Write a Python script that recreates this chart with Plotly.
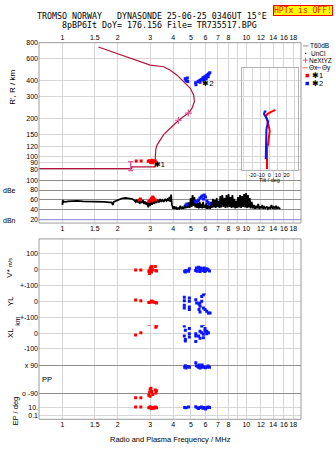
import numpy as np
import plotly.graph_objects as go

W, H = 335, 451


def px(x):
    return x / W


def py(y):
    return 1 - y / H


# ---------------- axis ticks ----------------
FREQ_TICKS = [1, 1.5, 2, 3, 4, 5, 6, 7, 8, 10, 12, 14, 16, 18]
FREQ_LABELS = ["1", "1.5", "2", "3", "4", "5", "6", "7", "8", "10", "12", "14", "16", "18"]
DB_FREQ_TICKS = [1, 1.5, 2, 3, 4, 5, 6, 7, 8, 9, 10, 12, 14, 16, 18]
DB_FREQ_LABELS = ["1", "1.5", "2", "3", "4", "5", "6", "7", "8", "9", "10", "12", "14", "16", "18"]
HEIGHT_TICKS = [80, 90, 100, 120, 150, 200, 300, 400, 600, 800]
DB_TICKS = [100, 80, 60, 40, 20]
TILT_TICKS = [-30, -20, -10, 0, 10, 20, 30]
TILT_LABELS = ["", "-20", "-10", "0", "10", "20", ""]

# ---------------- real-height profile ----------------
profile_freq = [0.70, 2.38, 2.38, 3.20, 3.20, 3.22, 3.27, 3.41, 3.55, 3.78, 4.03, 4.29,
                4.56, 4.86, 5.07, 5.22, 5.17, 4.96, 4.56, 4.20, 3.86, 3.55, 3.00, 2.44,
                1.98, 1.57]
profile_height = [81.0, 81.0, 83.5, 83.5, 100, 115, 124, 137, 150, 164, 180, 195,
                  209, 222, 243, 275, 309, 349, 394, 443, 485, 516, 531, 589,
                  656, 740]
nextyz_freq = [4.27, 4.84]
nextyz_height = [195, 222]
start_freq = [2.35]
start_height = [85]
start_err = [7]

# ---------------- echoes: O (*1) and X (*2) ----------------
o_freq = [2.52, 2.68, 2.93, 2.97, 3.00, 3.04, 3.08, 3.12, 3.16, 3.20, 3.02, 3.10]
o_height = [93, 93, 92.5, 93.5, 92, 93, 94, 93, 92, 93, 90.5, 90]
x_freq = [4.65, 4.70, 4.78, 4.80, 5.30, 5.32, 5.47, 5.55, 5.65, 5.72, 5.80, 5.88,
          5.95, 6.02, 6.10, 6.18, 6.25, 6.33, 5.60, 5.85, 6.05, 6.20]
x_height = [415, 400, 420, 395, 385, 372, 395, 400, 405, 410, 420, 425,
            430, 435, 440, 448, 455, 462, 390, 405, 415, 430]

# ---------------- tilt inset ----------------
tilt_o_deg = [-2.8, -2.8, -1.6, -0.4, 0.35, -0.4, -1.6, -3.2, -4.3, -2.4, 1.5, 7.0]
tilt_o_height = [80, 118, 126, 142, 160, 170, 186, 201, 209, 218, 226, 235]
tilt_x_deg = [-4.3, -4.3, -3.5, -3.5, -2.4, -1.6, -3.5, -6.3, -5.5, -3.5]
tilt_x_height = [96, 118, 142, 165, 180, 191, 203, 218, 229, 229]

# ---------------- echo amplitude / noise (dB) ----------------
noise_freq = [1.00, 1.005, 1.01, 1.02, 1.04, 1.07, 1.12, 1.20, 1.30, 1.40, 1.50, 1.60,
              1.70, 1.80, 1.85, 1.87, 1.88, 1.90, 1.93, 2.00, 2.10, 2.20, 2.30, 2.40,
              2.45, 2.50, 2.53, 2.56, 2.60, 2.63, 2.66, 2.70, 2.74, 2.78, 2.82, 2.86,
              2.90, 2.93, 2.96, 3.00, 3.04, 3.08, 3.12, 3.16, 3.20, 3.25, 3.30, 3.35,
              3.40, 3.45, 3.50, 3.56, 3.62, 3.68, 3.74, 3.78, 3.82, 3.86, 3.90, 3.94,
              4.00, 4.05, 4.10, 4.15, 4.20, 4.26, 4.32, 4.38, 4.44, 4.50, 4.56, 4.62,
              4.68, 4.74, 4.80, 4.86, 4.92, 4.98, 5.04, 5.10, 5.16, 5.22, 5.28, 5.34,
              5.40, 5.46, 5.52, 5.58, 5.64, 5.70, 5.76, 5.82, 5.88, 5.94, 6.00, 6.06,
              6.12, 6.18, 6.24, 6.30, 6.36, 6.42, 6.50, 6.58, 6.66, 6.74, 6.82, 6.90,
              6.98, 7.06, 7.14, 7.22, 7.30, 7.40, 7.50, 7.60, 7.70, 7.80, 7.90, 8.00,
              8.10, 8.20, 8.30, 8.40, 8.50, 8.60, 8.70, 8.80, 8.90, 9.00, 9.12, 9.24,
              9.36, 9.48, 9.60, 9.72, 9.84, 9.96, 10.08, 10.20, 10.32, 10.44, 10.56, 10.70,
              10.85, 11.00, 11.15, 11.30, 11.45, 11.60, 11.75, 11.90, 12.05, 12.20, 12.35, 12.50,
              12.70, 12.90, 13.10, 13.30, 13.50, 13.70, 13.90, 14.10, 14.30, 14.50, 14.70, 14.90,
              15.10, 15.30]
noise_db = [50, 60, 54, 57, 56, 57, 58, 58, 57, 57, 56, 56,
            56, 55, 55, 52, 50, 56, 57, 60, 63, 64, 63, 62,
            60, 56, 61, 55, 60, 52, 58, 54, 60, 52, 57, 50,
            56, 45, 55, 48, 58, 50, 60, 52, 58, 54, 60, 55,
            62, 56, 60, 57, 61, 58, 63, 58, 66, 56, 71, 50,
            42, 47, 42, 46, 41, 44, 42, 48, 42, 45, 42, 50,
            43, 52, 44, 55, 44, 64, 46, 70, 48, 66, 45, 58,
            44, 54, 43, 56, 44, 52, 43, 56, 44, 50, 43, 54,
            42, 50, 43, 48, 42, 56, 44, 62, 45, 60, 44, 64,
            46, 58, 44, 68, 45, 70, 46, 64, 44, 70, 45, 72,
            46, 66, 44, 70, 45, 62, 43, 58, 44, 66, 45, 70,
            44, 68, 46, 72, 45, 74, 44, 70, 45, 64, 43, 56,
            43, 50, 42, 48, 43, 52, 42, 47, 43, 50, 42, 46,
            43, 47, 42, 45, 43, 50, 42, 46, 43, 48, 42, 45,
            43, 42]
o_amp_freq = [2.62, 2.66, 2.95, 3.00, 3.05, 3.10, 3.15, 3.20, 3.08, 3.12]
o_amp_db = [60, 62, 57, 60, 63, 66, 62, 60, 58, 64]
x_amp_freq = [4.70, 4.75, 5.30, 5.35, 5.45, 5.50, 5.60, 5.70, 5.75, 5.85, 5.90, 6.00, 6.10, 6.20, 6.30]
x_amp_db = [50, 52, 57, 56, 58, 60, 64, 66, 68, 62, 70, 66, 58, 55, 52]

# ---------------- Doppler velocity V* (m/s) ----------------
o_v_freq = [2.50, 2.67, 2.95, 2.98, 3.00, 3.03, 3.06, 3.10, 3.20, 3.22, 3.25, 3.05, 3.00]
o_v = [-3, -3, -10, -25, 5, 15, 20, 0, 20, -5, -8, -15, -5]
x_v_freq = [4.62, 4.66, 4.70, 4.85, 4.90, 5.30, 5.35, 5.40, 5.50, 5.55, 5.60, 5.70,
            5.80, 5.90, 6.00, 6.10, 6.20, 6.30, 5.65, 5.95]
x_v = [-10, -15, -5, -10, 5, -5, 10, -10, 15, 0, -12, 5,
       -5, 10, -5, 5, 0, -8, 10, -12]

# ---------------- echo location YL / XL (km) ----------------
o_yl_freq = [2.50, 2.67, 2.95, 3.00, 3.05, 3.10, 3.15, 3.22, 3.25]
o_yl = [8, 4, -8, -5, 2, -3, -6, -8, -10]
x_yl_freq = [4.60, 4.60, 4.90, 4.90, 4.60, 4.60, 4.90, 4.90, 5.31, 5.37, 5.53, 5.60,
             5.53, 5.60, 5.72, 5.84, 5.91, 6.04, 6.14, 6.25, 5.60, 5.72, 5.84, 6.09,
             6.22, 6.35, 5.96]
x_yl = [25, 4, 21, 0, -25, -42, -35, -52, 10, -10, -17, -31,
        -52, -67, 31, 42, 52, 67, 83, 98, -10, 0, -42, -62,
        -73, -73, -52]
o_xl_freq = [2.50, 2.67, 2.95, 2.98, 3.00, 3.03, 3.06, 3.10, 3.20, 3.22, 3.25, 3.00]
o_xl = [-12, 2, 55, 65, 75, 85, 70, 65, 55, 37, 45, 60]
x_xl_freq = [4.60, 4.66, 4.60, 4.66, 4.66, 4.90, 4.90, 4.90, 5.31, 5.31, 5.31, 5.60,
             5.72, 5.84, 5.96, 6.09, 6.09, 6.25, 5.60, 5.72, 5.84, 5.96, 6.09, 5.50,
             5.60, 5.84, 6.22]
x_xl = [44, 17, -19, -40, -50, 29, -4, -25, -4, -19, -54, 65,
        44, 54, 29, 12, 75, 79, 12, 2, -8, 12, -4, -19,
        -33, -29, 2]

# ---------------- polarization PP and EP (deg) ----------------
o_pp_freq = [2.50, 2.67, 2.95, 2.98, 3.00, 3.03, 3.06, 3.10, 3.20, 3.22, 3.25, 3.00]
o_pp = [-115, -115, -100, -80, -60, -55, -75, -95, -65, -85, -70, -105]
x_pp_freq = [4.62, 4.66, 4.70, 4.85, 4.90, 5.31, 5.35, 5.45, 5.50, 5.60, 5.70, 5.80,
             5.90, 6.00, 6.10, 6.20, 6.30, 5.55, 5.75]
x_pp = [80, 90, 75, 85, 80, 110, 90, 85, 80, 75, 80, 85,
        80, 78, 82, 88, 80, 95, 95]
o_ep_freq = [2.50, 2.67, 2.95, 3.00, 3.05, 3.10, 3.15, 3.20, 3.25]
o_ep = [12, 12, 8, 15, 5, 10, 6, 12, 8]
x_ep_freq = [4.62, 4.70, 4.85, 5.31, 5.40, 5.50, 5.60, 5.70, 5.80, 5.90, 6.00, 6.10, 6.20, 6.30]
x_ep = [10, 8, 12, 14, 8, 5, 10, 12, 6, 10, 4, 8, 12, 9]

# ---------------- colours ----------------
RED = "#ff0000"
BLUE = "#0a14ff"
CRIMSON = "#b4143c"
PINK = "#e0509a"
GRID = "#d6d6d6"
DARKGRID = "#8c8c8c"
FRAME = "#9a9a9a"
SANS = "Liberation Sans, Arial, sans-serif"
MONO = "DejaVu Sans Mono, monospace"
TICKFONT = dict(family=SANS, size=7, color="black")

fig = go.Figure()


def pts(x, y, color, xa, ya, size=3):
    fig.add_trace(go.Scatter(x=x, y=y, mode="markers", xaxis=xa, yaxis=ya,
                             marker=dict(symbol="square", size=size, color=color,
                                         line=dict(width=0)),
                             hoverinfo="skip"))


# height panel
fig.add_trace(go.Scatter(x=profile_freq, y=profile_height, mode="lines",
                         line=dict(color=CRIMSON, width=1.2), xaxis="x", yaxis="y"))
fig.add_trace(go.Scatter(x=start_freq, y=start_height, mode="markers",
                         marker=dict(size=1, color=PINK),
                         error_y=dict(type="data", array=start_err, color=PINK,
                                      thickness=1.2, width=2.5),
                         xaxis="x", yaxis="y"))
fig.add_trace(go.Scatter(x=nextyz_freq, y=nextyz_height, mode="markers",
                         marker=dict(symbol="cross-thin", size=5,
                                     line=dict(color=PINK, width=1.2)),
                         xaxis="x", yaxis="y"))
pts(o_freq, o_height, RED, "x", "y")
pts(x_freq, x_height, BLUE, "x", "y")
fig.add_trace(go.Scatter(x=[3.13, 5.75], y=[86.5, 378], mode="text", text=["✱1", "✱2"],
                         textfont=dict(family=SANS, size=8, color="black"),
                         textposition="middle right", xaxis="x", yaxis="y"))

# amplitude panel
fig.add_trace(go.Scatter(x=noise_freq, y=noise_db, mode="lines",
                         line=dict(color="black", width=1.7), xaxis="x2", yaxis="y2"))
pts(o_amp_freq, o_amp_db, RED, "x2", "y2")
pts(x_amp_freq, x_amp_db, BLUE, "x2", "y2")

# lower panel bands
pts(o_v_freq, o_v, RED, "x3", "y3")
pts(x_v_freq, x_v, BLUE, "x3", "y3")
pts(o_yl_freq, o_yl, RED, "x3", "y4")
pts(x_yl_freq, x_yl, BLUE, "x3", "y4")
pts(o_xl_freq, o_xl, RED, "x3", "y5")
pts(x_xl_freq, x_xl, BLUE, "x3", "y5")
pts(o_pp_freq, o_pp, RED, "x3", "y6")
pts(x_pp_freq, x_pp, BLUE, "x3", "y6")
pts(o_ep_freq, o_ep, RED, "x3", "y7")
pts(x_ep_freq, x_ep, BLUE, "x3", "y7")

# tilt inset
fig.add_trace(go.Scatter(x=tilt_o_deg, y=tilt_o_height, mode="lines",
                         line=dict(color=RED, width=2), xaxis="x4", yaxis="y8"))
fig.add_trace(go.Scatter(x=tilt_x_deg, y=tilt_x_height, mode="lines",
                         line=dict(color=BLUE, width=2), xaxis="x4", yaxis="y8"))

freq_common = dict(type="log", range=[-0.127, 1.297], domain=[px(39), px(301)],
                   showgrid=True, gridcolor=GRID, gridwidth=1, ticks="", tickangle=0,
                   zeroline=False, showline=False, tickfont=TICKFONT,
                   minor=dict(tickvals=[9], showgrid=True, gridcolor=GRID, ticks=""))


def yax(rng, top, bottom, vals, labels, grid=GRID, **kw):
    d = dict(range=rng, domain=[py(bottom), py(top)], tickvals=vals, ticktext=labels,
             showgrid=True, gridcolor=grid, gridwidth=1, ticks="", zeroline=False,
             showline=False, tickfont=TICKFONT, anchor="x3")
    d.update(kw)
    return d


fig.update_layout(
    width=W, height=H, margin=dict(l=0, r=0, t=0, b=0),
    paper_bgcolor="white", plot_bgcolor="white", showlegend=False,
    font=dict(family=SANS, size=8, color="black"),
    xaxis=dict(freq_common, anchor="y", side="top", tickvals=FREQ_TICKS, ticktext=FREQ_LABELS),
    xaxis2=dict(freq_common, anchor="y2", tickvals=DB_FREQ_TICKS, ticktext=DB_FREQ_LABELS),
    xaxis3=dict(freq_common, anchor="y7", tickvals=FREQ_TICKS, ticktext=FREQ_LABELS),
    xaxis4=dict(range=[-32.5, 33.2], domain=[px(241.7), px(297.7)], anchor="y8",
                tickvals=TILT_TICKS, ticktext=TILT_LABELS, showgrid=True, gridcolor=GRID,
                ticks="", tickangle=0, zeroline=False, showline=True, mirror=True,
                linecolor="#b4b4b4", tickfont=dict(family=SANS, size=5.5),
                ticklabelstandoff=0),
    yaxis=yax([np.log10(72.7), np.log10(800)], 39, 172, HEIGHT_TICKS,
              [str(v) for v in HEIGHT_TICKS], type="log", anchor="x"),
    yaxis2=yax([13.4, 111.4], 172, 221, DB_TICKS, [str(v) for v in DB_TICKS],
               grid=DARKGRID, anchor="x2"),
    yaxis3=yax([-150, 193.75], 237, 292, [100, 0, -100], ["100", "0", "+-100"]),
    yaxis4=yax([-150, 50], 292, 324, [0, -100], ["0", "+-100"]),
    yaxis5=yax([-150, 50], 324, 356, [0, -100], ["0", "-100"]),
    yaxis6=yax([-132.6, 147.2], 356, 400, [90, -90], ["x 90", "o -90"], grid=DARKGRID),
    yaxis7=yax([-2, 2.75], 400, 419, [10, 0.1], ["10.", "0.1"], type="log"),
    yaxis8=dict(type="log", range=[np.log10(79.6), np.log10(500)], domain=[py(167), py(65)],
                anchor="x4", tickvals=HEIGHT_TICKS, showticklabels=False, showgrid=True,
                gridcolor=GRID, ticks="", zeroline=False, showline=True, mirror=True,
                linecolor="#b4b4b4"),
)

shapes = [
    # white card behind the tilt inset
    dict(type="rect", xref="x4", yref="y8", x0=-40, x1=40, y0=10, y1=5000, layer="below",
         fillcolor="white", line=dict(width=0)),
    # panel frames
    dict(type="rect", xref="paper", yref="paper", x0=px(39), x1=px(301), y0=py(221), y1=py(39),
         line=dict(color=FRAME, width=1), layer="above"),
    dict(type="rect", xref="paper", yref="paper", x0=px(39), x1=px(301), y0=py(419), y1=py(237),
         line=dict(color=FRAME, width=1), layer="above"),
    # noise reference level
    dict(type="line", xref="x2 domain", yref="y2", x0=0, x1=1, y0=20, y1=20,
         line=dict(color="#a0a0f0", width=1.2), layer="above"),
    # legend keys
    dict(type="line", xref="paper", yref="paper", x0=px(303), x1=px(308.5), y0=py(42.3), y1=py(42.3),
         line=dict(color="#a0a0a0", width=1.2)),
    dict(type="rect", xref="paper", yref="paper", x0=px(305), x1=px(306.3), y0=py(50.4), y1=py(49.1),
         fillcolor="black", line=dict(width=0)),
    dict(type="line", xref="paper", yref="paper", x0=px(303), x1=px(308), y0=py(56.7), y1=py(56.7),
         line=dict(color=PINK, width=1)),
    dict(type="line", xref="paper", yref="paper", x0=px(305.5), x1=px(305.5), y0=py(54.2), y1=py(59.2),
         line=dict(color=PINK, width=1)),
    dict(type="line", xref="paper", yref="paper", x0=px(302.5), x1=px(307.5), y0=py(64.3), y1=py(64.3),
         line=dict(color="#f08080", width=1.2)),
    dict(type="line", xref="paper", yref="paper", x0=px(316), x1=px(321), y0=py(64.3), y1=py(64.3),
         line=dict(color="#8080f0", width=1.2)),
    dict(type="rect", xref="paper", yref="paper", x0=px(305.5), x1=px(309), y0=py(74), y1=py(70.5),
         fillcolor=RED, line=dict(width=0)),
    dict(type="rect", xref="paper", yref="paper", x0=px(305.5), x1=px(309), y0=py(82), y1=py(78.5),
         fillcolor=BLUE, line=dict(width=0)),
]
fig.update_layout(shapes=shapes)


def note(text, x, y, xanchor="left", size=8, family=SANS, angle=0, color="black", **kw):
    fig.add_annotation(text=text, x=px(x), y=py(y), xref="paper", yref="paper",
                       xanchor=xanchor, yanchor="middle", showarrow=False, textangle=angle,
                       font=dict(family=family, size=size, color=color), **kw)


note("TROMSO NORWAY   DYNASONDE 25-06-25 0346UT 15°E", 35, 12.3, family=MONO, size=8.3)
note("8pBP6It DoY= 176.156 File= TR735517.BPG", 60, 20.7, family=MONO, size=8.3)
note("HPTx is OFF!", 302.5, 7, xanchor="center", family=MONO, size=8, color=RED,
     bgcolor="#ffff00", bordercolor=RED, borderwidth=1, borderpad=0)

LEG = 6.5
note("T60dB", 308.5, 42.3, size=LEG, borderpad=0)
note("UnCl", 310, 49.7, size=LEG, borderpad=0)
note("NeXtYZ", 308, 56.7, size=LEG, borderpad=0)
note("Θx", 307.5, 64.3, size=LEG, borderpad=0)
note("Θy", 321, 64.3, size=LEG, borderpad=0)
note("✱1", 311, 72.3, size=7.5, borderpad=0)
note("✱2", 311, 80.3, size=7.5, borderpad=0)

note("R', R / km", 12.5, 84, xanchor="center", angle=-90)
note("dBe", 1, 188, size=7)
note("dBn", 1, 218, size=7)
note("V* <span style='font-size:5.5px'>m/s</span>", 10, 266, xanchor="center", angle=-90)
note("YL", 10, 300, xanchor="center", angle=-90)
note("km", 17.5, 320, xanchor="center", angle=-90, size=7)
note("XL", 10, 332, xanchor="center", angle=-90)
note("PP", 47, 379, xanchor="center", size=7.5)
note("EP / deg", 15, 411, xanchor="center", angle=-90, size=7.5)
note("Tilt / deg", 269, 177.5, xanchor="center", size=5.5, borderpad=0)
note("Radio and Plasma Frequency / MHz", 170, 439, xanchor="center", size=7.5)

fig.write_html("out.html")
